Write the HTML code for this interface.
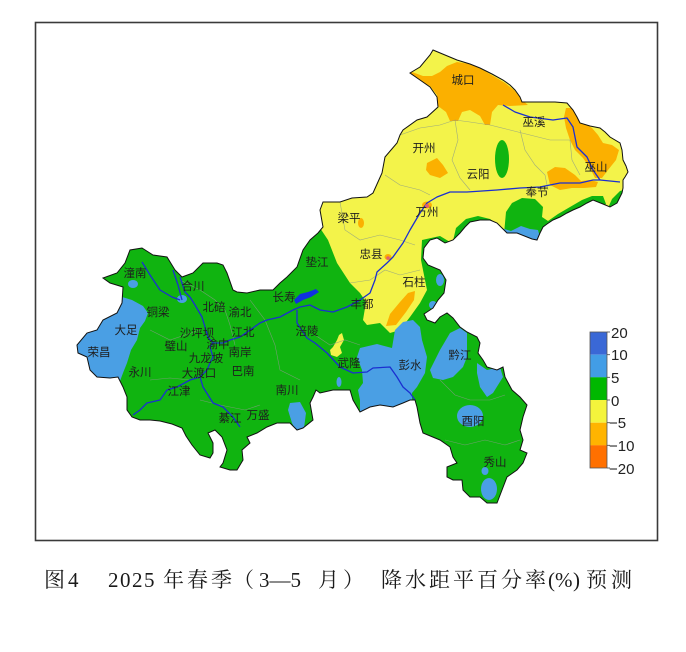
<!DOCTYPE html>
<html>
<head>
<meta charset="utf-8">
<style>
html,body{margin:0;padding:0;background:#fff;}
svg{display:block;}
.lb{font-family:"Liberation Sans","Noto Sans CJK SC",sans-serif;font-size:11.5px;fill:#1e1e1e;text-anchor:middle;}
.lg{font-family:"Liberation Sans",sans-serif;font-size:15px;fill:#222;}
.cap{font-family:"Liberation Serif","Noto Serif CJK SC",serif;font-size:21px;fill:#1a1a1a;}
</style>
</head>
<body>
<svg width="686" height="652" viewBox="0 0 686 652" xmlns="http://www.w3.org/2000/svg">
<rect x="0" y="0" width="686" height="652" fill="#fff"/>
<rect x="35.5" y="22.5" width="622" height="518" fill="#fff" stroke="#3a3a3a" stroke-width="1.6"/>
<defs>
<clipPath id="cq">
<polygon id="outl" points="433,50 445,55 457,60 470,64 480,68 492,74 503,80 510,85 515,90 520,97 522,102 530,102 540,102 555,102 567,103 573,110 577,117 580,123 590,126 600,128 605,132 610,137 620,143 622,150 623,160 626,166 628,172 625,177 623,180 623,188 622,193 619,199 617,203 610,207 603,204 593,200 587,203 580,207 573,210 567,213 560,217 553,220 547,224 543,227 540,233 537,240 532,239 527,237 517,233 507,233 502,228 497,223 490,220 480,220 470,222 465,227 460,233 453,240 445,243 437,238 430,240 424,248 423,258 428,265 440,270 446,280 444,293 438,300 433,308 424,314 427,320 435,323 440,317 447,313 453,318 460,327 467,332 477,337 480,343 478,353 483,360 487,367 497,370 503,367 505,377 512,390 520,397 527,405 523,417 520,430 523,440 520,450 527,453 523,463 517,470 507,477 502,490 497,503 487,503 480,497 470,497 463,490 462,480 453,480 447,477 447,467 457,463 453,457 450,447 440,440 423,433 420,423 417,407 415,400 410,400 403,403 393,407 380,405 370,407 360,412 353,400 350,390 340,390 333,390 320,393 316,390 313,397 310,403 313,420 303,428 297,430 290,423 277,423 267,427 257,433 247,437 250,443 242,450 243,460 237,470 230,470 220,467 223,463 227,450 222,437 215,430 208,433 213,443 213,453 210,458 200,455 192,445 186,436 182,428 172,424 160,421 150,420 140,420 132,417 127,410 127,397 123,387 118,377 110,378 97,377 90,370 87,357 78,353 77,345 87,333 97,330 103,320 117,313 122,303 123,287 110,283 103,278 117,273 125,263 130,250 142,248 153,255 167,257 175,270 182,277 193,273 203,263 217,263 223,265 227,273 233,290 237,292 247,293 260,290 273,290 280,283 287,277 297,267 303,250 310,240 318,233 323,227 320,210 323,202 340,202 352,198 367,197 373,193 382,173 385,157 397,143 400,135 403,130 417,120 427,117 438,107 437,97 430,87 420,80 410,73 420,67 430,55"/>
</clipPath>
</defs>

<g clip-path="url(#cq)">
  <rect x="40" y="40" width="620" height="480" fill="#10b410"/>
  <polygon fill="#f3f34a" points="300,20 310,215 320,228 328,240 337,263 350,283 360,293 366,302 363,320 367,325 380,323 390,333 400,330 410,317 420,303 427,290 425,280 421,260 422,240 440,236 455,245 660,245 660,20"/>
  <polygon fill="#fbb000" points="400,70 412,72 423,76 432,76 440,72 447,66 457,62 470,64 483,70 495,77 505,83 514,90 522,100 528,105 510,106 498,105 492,112 490,125 485,125 480,116 470,110 462,112 458,121 450,121 446,112 438,106 437,95 430,86 418,80 400,75"/>
  <polygon fill="#fbb000" points="566,108 576,108 582,122 592,128 598,135 603,143 612,145 619,150 616,160 608,170 602,178 595,178 590,168 583,158 575,150 570,140 566,128 564,117"/>
  <polygon fill="#fbb000" points="547,172 555,167 565,168 575,175 581,181 590,180 598,182 596,187 584,188 572,188 560,190 550,185"/>
  <polygon fill="#fbb000" points="427,163 437,158 443,165 448,173 440,178 430,175 426,170"/>
  <ellipse cx="361" cy="223" rx="3" ry="5" fill="#fbb000"/>
  <ellipse cx="427" cy="205" rx="5" ry="3.5" fill="#fbb000"/>
  <ellipse cx="388" cy="257" rx="3.5" ry="3" fill="#fbb000"/>
  <polygon fill="#fbb000" points="386,326 390,314 400,302 408,293 415,291 414,300 406,312 396,325"/>
  <ellipse cx="502" cy="159" rx="7" ry="19" fill="#10b410"/>
  <polygon fill="#10b410" points="452,245 456,228 466,219 478,216 490,219 500,226 505,245"/>
  <polygon fill="#10b410" points="503,245 506,212 512,203 522,198 535,199 543,207 542,217 548,221 558,214 570,207 582,200 592,196 603,196 606,204 592,214 570,235 560,248"/>
  <polygon fill="#10b410" points="608,208 612,199 620,191 630,188 630,212"/>
  <polygon fill="#4a9fe4" points="501,228 511,231 521,226 530,229 538,230 542,245 500,245"/>
  <polygon fill="#4a9fe4" points="60,296 122,297 132,300 143,306 148,313 145,321 140,328 137,340 131,350 127,363 123,373 120,381 60,386"/>
  <ellipse cx="133" cy="284" rx="5" ry="4" fill="#4a9fe4"/>
  <ellipse cx="182" cy="299" rx="5" ry="4" fill="#4a9fe4"/>
  <polygon fill="#4a9fe4" points="360,348 377,344 392,348 395,330 403,322 413,320 420,327 422,340 427,357 425,373 417,387 412,393 412,410 380,412 360,412 360,400 358,390 363,383 362,370 357,357"/>
  <polygon fill="#4a9fe4" points="433,378 430,370 440,350 450,333 460,328 467,333 467,357 463,367 453,377 443,380"/>
  <polygon fill="#4a9fe4" points="477,363 487,370 500,367 503,377 493,393 487,397 480,387 477,373"/>
  <ellipse cx="470" cy="416" rx="13" ry="11" fill="#4a9fe4"/>
  <ellipse cx="489" cy="489" rx="8" ry="11" fill="#4a9fe4"/>
  <ellipse cx="485" cy="471" rx="3.5" ry="4" fill="#4a9fe4"/>
  <polygon fill="#4a9fe4" points="290,403 300,402 306,413 304,428 297,433 292,423 288,410"/>
  <ellipse cx="433" cy="305" rx="4" ry="4" fill="#4a9fe4"/>
  <ellipse cx="440" cy="280" rx="4" ry="6" fill="#4a9fe4"/>
  <ellipse cx="339" cy="382" rx="2.5" ry="5" fill="#4a9fe4"/>
  <polygon fill="#f3f34a" points="333,347 337,340 339,335 342,333 344,340 340,347 342,353 337,357 331,355 330,350"/>
  <g fill="none" stroke="#8a9a8a" stroke-width="0.6" opacity="0.8">
    <polyline points="400,135 420,128 440,125 455,120 470,122 490,125 510,130 530,135 550,140 570,140"/>
    <polyline points="455,120 458,140 452,160 460,178 470,190"/>
    <polyline points="520,130 525,150 535,165 545,175 548,190"/>
    <polyline points="570,140 572,160 580,175"/>
    <polyline points="385,175 400,185 420,190 430,195"/>
    <polyline points="340,202 345,230 360,240 380,235 400,240 415,245"/>
    <polyline points="350,283 370,280 385,270 400,275 420,270"/>
    <polyline points="180,280 200,290 215,300 225,310 230,325 235,345"/>
    <polyline points="150,330 170,340 185,335 200,330"/>
    <polyline points="150,380 170,378 190,380"/>
    <polyline points="250,300 265,320 275,345 280,370 300,380"/>
    <polyline points="315,335 330,345 345,340 360,345"/>
    <polyline points="440,380 455,395 470,400 490,400 505,395"/>
    <polyline points="445,440 465,445 485,440 505,445 520,440"/>
    <polyline points="200,400 220,405 245,410 260,405"/>
  </g>
  <g fill="none" stroke="#1b2fd0" stroke-width="1.3" stroke-linejoin="round">
    <polyline points="133,415 140,410 147,403 160,400 167,390 177,387 190,380 200,377 207,370 210,363 213,357 210,347 213,343 223,343 230,340 240,337 250,330 260,323 267,320 280,317 293,310 300,307 310,305 320,310 333,312 347,307 360,300 370,293 375,280 377,272 387,263 393,257 403,243 410,230 420,213 427,203 437,197 450,192 467,192 497,190 520,188 540,187 560,183 580,183 593,180 600,180 620,182"/>
    <polyline points="180,277 185,292 190,297 195,305 202,317 208,337 213,343"/>
    <polyline points="142,262 150,275 160,290 172,297 180,300"/>
    <polyline points="173,270 178,285 182,300"/>
    <polyline points="297,310 297,323 307,338 315,343 327,353 340,367 353,373 367,372 373,368 390,367 397,377 403,387 410,393 415,400"/>
    <polyline points="200,377 203,387 213,403 223,407 233,417 240,427"/>
    <polyline points="503,105 515,112 530,117 553,120 567,118 573,127 577,147 587,157 593,170 600,180"/>
  </g>
  <polygon fill="#1030e0" points="294,300 300,294 308,292 316,289 319,292 311,297 303,300 296,304"/>
  <circle cx="427" cy="206" r="2" fill="#e06070"/>
  <circle cx="388" cy="258" r="1.8" fill="#e06070"/>
</g>
<use href="#outl" fill="none" stroke="#111" stroke-width="1"/>

<g class="lb">
<text x="463" y="84">城口</text>
<text x="534" y="126">巫溪</text>
<text x="424" y="152">开州</text>
<text x="478" y="178">云阳</text>
<text x="596" y="171">巫山</text>
<text x="537" y="196">奉节</text>
<text x="427" y="216">万州</text>
<text x="349" y="222">梁平</text>
<text x="371" y="258">忠县</text>
<text x="414" y="286">石柱</text>
<text x="317" y="266">垫江</text>
<text x="284" y="301">长寿</text>
<text x="362" y="308">丰都</text>
<text x="307" y="335">涪陵</text>
<text x="349" y="367">武隆</text>
<text x="410" y="369">彭水</text>
<text x="460" y="359">黔江</text>
<text x="473" y="425">酉阳</text>
<text x="495" y="466">秀山</text>
<text x="287" y="394">南川</text>
<text x="258" y="419">万盛</text>
<text x="230" y="422">綦江</text>
<text x="179" y="395">江津</text>
<text x="140" y="376">永川</text>
<text x="199" y="377">大渡口</text>
<text x="206" y="362">九龙坡</text>
<text x="243" y="375">巴南</text>
<text x="240" y="356">南岸</text>
<text x="218" y="348">渝中</text>
<text x="176" y="350">璧山</text>
<text x="197" y="337">沙坪坝</text>
<text x="243" y="336">江北</text>
<text x="240" y="316">渝北</text>
<text x="214" y="311">北碚</text>
<text x="158" y="316">铜梁</text>
<text x="193" y="290">合川</text>
<text x="135" y="277">潼南</text>
<text x="126" y="334">大足</text>
<text x="99" y="356">荣昌</text>
</g>

<rect x="590" y="332" width="17" height="22.7" fill="#3a68d6"/>
<rect x="590" y="354.7" width="17" height="22.7" fill="#429de6"/>
<rect x="590" y="377.3" width="17" height="22.7" fill="#00b800"/>
<rect x="590" y="400" width="17" height="22.7" fill="#f4f43c"/>
<rect x="590" y="422.7" width="17" height="22.7" fill="#ffb400"/>
<rect x="590" y="445.3" width="17" height="22.7" fill="#ff7000"/>
<rect x="590" y="332" width="17" height="136" fill="none" stroke="#555" stroke-width="0.8"/>
<g stroke="#444" stroke-width="0.8">
<line x1="607" y1="332" x2="610" y2="332"/><line x1="607" y1="354.7" x2="610" y2="354.7"/><line x1="607" y1="377.3" x2="610" y2="377.3"/><line x1="607" y1="400" x2="610" y2="400"/><line x1="607" y1="422.7" x2="610" y2="422.7"/><line x1="607" y1="445.3" x2="610" y2="445.3"/><line x1="607" y1="468" x2="610" y2="468"/>
</g>
<g class="lg">
<text x="611" y="338">20</text>
<text x="611" y="360">10</text>
<text x="611" y="383">5</text>
<text x="611" y="406">0</text>
<text x="609" y="428">−5</text>
<text x="609" y="451">−10</text>
<text x="609" y="474">−20</text>
</g>

<text class="cap" y="587" x="44 68 108 120 132 144 163 187 211 233 259 269.5 290.5 318 343 381 405 429 453 477 501 525 548 555 573 586 611">图42025年春季（3—5月）降水距平百分率(%)预测</text>
</svg>
</body>
</html>
